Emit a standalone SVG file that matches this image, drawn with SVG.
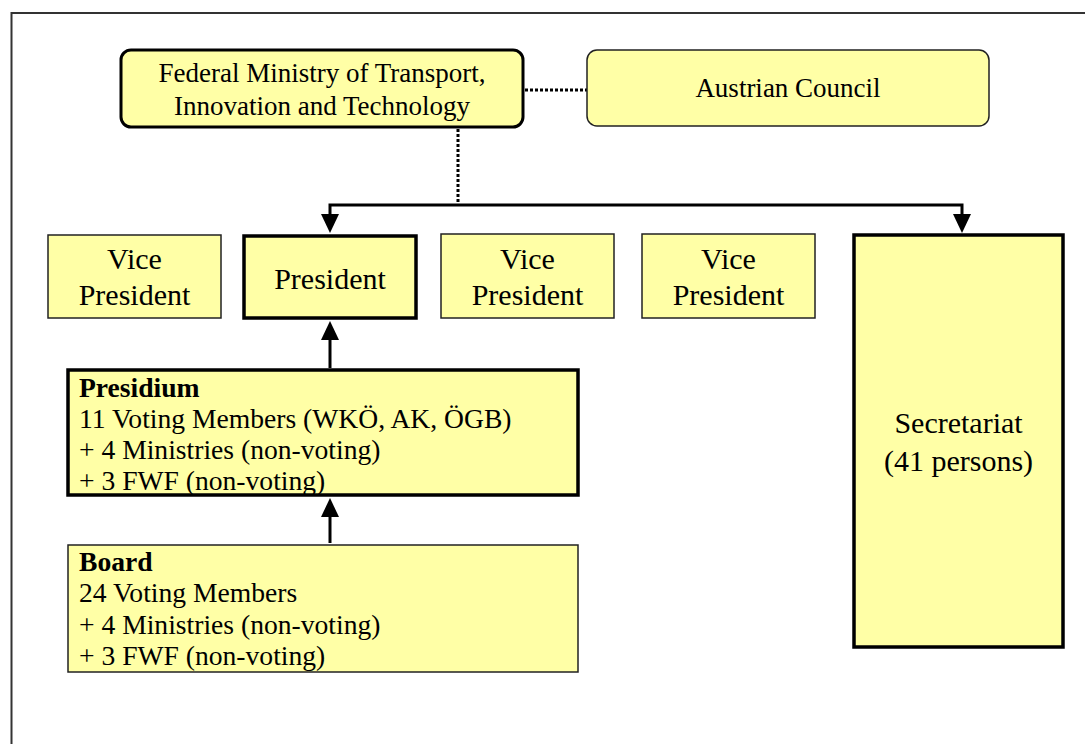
<svg xmlns="http://www.w3.org/2000/svg" width="1085" height="744" viewBox="0 0 1085 744">
<style>
.box{fill:#FFFFA6;stroke:#222;stroke-width:1.5}
.thick{fill:#FFFFA6;stroke:#000;stroke-width:3.5}
.t{font-family:"Liberation Serif","Times New Roman",Times,serif;font-size:27px;fill:#000}
.m{font-size:27.6px}
.big{font-size:30px}
.c{text-anchor:middle}
.b{font-weight:bold}
.dot{fill:none;stroke:#000;stroke-width:3;stroke-dasharray:3,2}
.ln{fill:none;stroke:#000;stroke-width:3}
.ah{fill:#000}
</style>
<rect width="1085" height="744" fill="#fff"/>
<path d="M11.5,744 V13 H1085" fill="none" stroke="#333" stroke-width="2"/>

<g id="connectors">
<line class="dot" x1="525" y1="90" x2="587" y2="90"/>
<line class="dot" x1="458" y1="129" x2="458" y2="203"/>
<path class="ln" d="M330,216 V205 H962 V216"/>
<path class="ah" d="M321,214 L339,214 L330,233 Z"/>
<path class="ah" d="M953,214 L971,214 L962,233 Z"/>
<line class="ln" x1="330" y1="368" x2="330" y2="338"/>
<path class="ah" d="M321,340 L339,340 L330,321 Z"/>
<line class="ln" x1="330" y1="543" x2="330" y2="515"/>
<path class="ah" d="M321,517 L339,517 L330,498 Z"/>
</g>

<g id="ministry">
<rect x="121" y="50" width="402" height="77" rx="10" fill="#FFFFA6" stroke="#000" stroke-width="3"/>
<text class="t c" x="322" y="82">Federal Ministry of Transport,</text>
<text class="t c" x="322" y="115">Innovation and Technology</text>
</g>

<g id="council">
<rect x="587" y="50" width="402" height="76" rx="10" class="box"/>
<text class="t c" x="788" y="97">Austrian Council</text>
</g>

<g id="vp1">
<rect x="48" y="235" width="173" height="83" class="box"/>
<text class="t big c" x="134.5" y="269">Vice</text>
<text class="t big c" x="134.5" y="305">President</text>
</g>

<g id="president">
<rect x="244" y="236" width="172" height="82" class="thick"/>
<text class="t big c" x="330" y="289">President</text>
</g>

<g id="vp2">
<rect x="441" y="234" width="173" height="84" class="box"/>
<text class="t big c" x="527.5" y="269">Vice</text>
<text class="t big c" x="527.5" y="305">President</text>
</g>

<g id="vp3">
<rect x="642" y="234" width="173" height="84" class="box"/>
<text class="t big c" x="728.5" y="269">Vice</text>
<text class="t big c" x="728.5" y="305">President</text>
</g>

<g id="secretariat">
<rect x="854" y="235" width="209" height="412" class="thick"/>
<text class="t big c" x="958.5" y="433">Secretariat</text>
<text class="t big c" x="958.5" y="471">(41 persons)</text>
</g>

<g id="presidium">
<rect x="68" y="370" width="510" height="125" class="thick"/>
<text class="t m b" x="79" y="397">Presidium</text>
<text class="t m" x="79" y="428">11 Voting Members (WKÖ, AK, ÖGB)</text>
<text class="t m" x="79" y="459">+ 4 Ministries (non-voting)</text>
<text class="t m" x="79" y="490">+ 3 FWF (non-voting)</text>
</g>

<g id="board">
<rect x="68" y="545" width="510" height="127" class="box"/>
<text class="t m b" x="79" y="571">Board</text>
<text class="t m" x="79" y="602">24 Voting Members</text>
<text class="t m" x="79" y="634">+ 4 Ministries (non-voting)</text>
<text class="t m" x="79" y="665">+ 3 FWF (non-voting)</text>
</g>
</svg>
